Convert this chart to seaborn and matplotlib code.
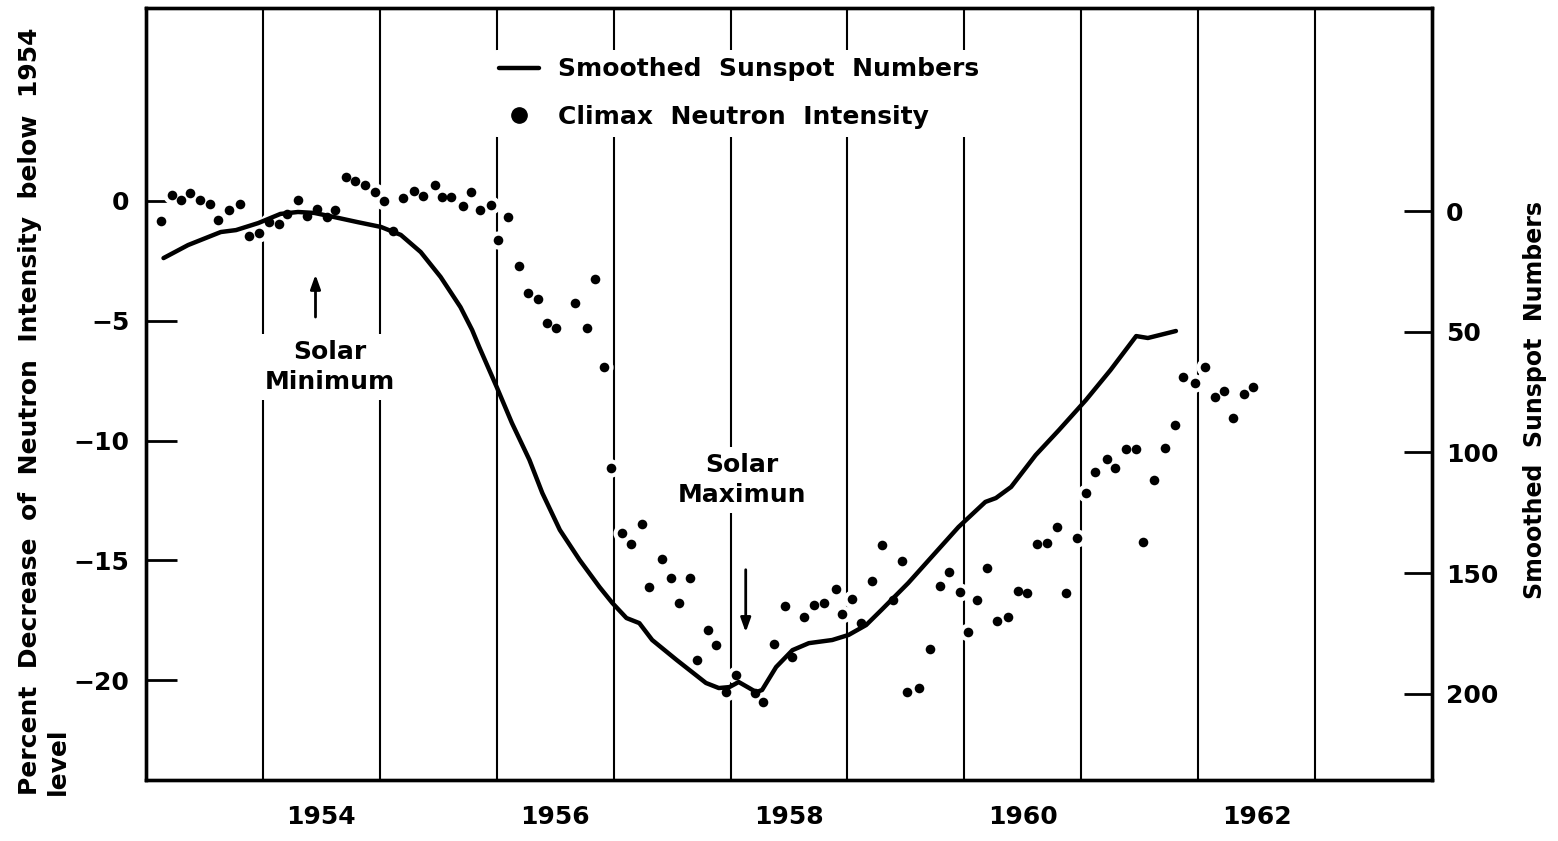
import matplotlib
matplotlib.use("Agg")
import matplotlib.pyplot as plt
import seaborn as sns
from matplotlib.lines import Line2D

# Climax neutron monitor, percent below the 1954 level (monthly means)
neutron_year = [1953.13, 1953.22, 1953.30, 1953.38, 1953.46, 1953.55, 1953.62, 1953.71,
                1953.80, 1953.88, 1953.97, 1954.05, 1954.14, 1954.21, 1954.30, 1954.38,
                1954.46, 1954.55, 1954.62, 1954.71, 1954.79, 1954.87, 1954.96, 1955.04,
                1955.11, 1955.20, 1955.29, 1955.37, 1955.47, 1955.53, 1955.61, 1955.71,
                1955.78, 1955.86, 1955.95, 1956.01, 1956.10, 1956.19, 1956.27, 1956.35,
                1956.43, 1956.51, 1956.67, 1956.77, 1956.84, 1956.92, 1956.98, 1957.07,
                1957.15, 1957.24, 1957.30, 1957.41, 1957.49, 1957.56, 1957.65, 1957.71,
                1957.81, 1957.88, 1957.96, 1958.05, 1958.21, 1958.28, 1958.37, 1958.47,
                1958.53, 1958.63, 1958.71, 1958.80, 1958.90, 1958.95, 1959.04, 1959.12,
                1959.21, 1959.30, 1959.39, 1959.47, 1959.51, 1959.61, 1959.71, 1959.79,
                1959.87, 1959.96, 1960.03, 1960.11, 1960.19, 1960.28, 1960.37, 1960.46,
                1960.54, 1960.62, 1960.71, 1960.79, 1960.87, 1960.96, 1961.04, 1961.12,
                1961.22, 1961.29, 1961.38, 1961.47, 1961.53, 1961.62, 1961.72, 1961.80,
                1961.87, 1961.97, 1962.06, 1962.14, 1962.22, 1962.30, 1962.39, 1962.47]
neutron_pct = [-0.83, 0.25, 0.04, 0.33, 0.04, -0.13, -0.79, -0.38,
               -0.13, -1.46, -1.34, -0.88, -0.96, -0.54, 0.04, -0.63,
               -0.33, -0.67, -0.38, 1.00, 0.83, 0.67, 0.38, 0.00,
               -1.25, 0.13, 0.42, 0.21, 0.67, 0.17, 0.17, -0.21,
               0.38, -0.38, -0.17, -1.63, -0.67, -2.71, -3.84, -4.09,
               -5.09, -5.30, -4.26, -5.30, -3.25, -6.93, -11.14, -13.85,
               -14.31, -13.48, -16.10, -14.94, -15.73, -16.77, -15.73, -19.15,
               -17.90, -18.52, -20.48, -19.77, -20.53, -20.90, -18.48, -16.90,
               -19.02, -17.36, -16.85, -16.77, -16.19, -17.23, -16.60, -17.61,
               -15.85, -14.35, -16.65, -15.02, -20.48, -20.32, -18.69, -16.06,
               -15.48, -16.31, -17.98, -16.65, -15.31, -17.52, -17.36, -16.27,
               -16.35, -14.31, -14.27, -13.60, -16.35, -14.06, -12.18, -11.31,
               -10.76, -11.14, -10.35, -10.35, -14.23, -11.64, -10.30, -9.35,
               -7.34, -7.59, -6.93, -8.18, -7.93, -9.05, -8.05, -7.76]

# smoothed sunspot numbers (right axis, inverted)
sunspot_year = [1953.15, 1953.36, 1953.64, 1953.77, 1953.96, 1954.15, 1954.30, 1954.44,
                1954.61, 1954.81, 1955.01, 1955.18, 1955.35, 1955.52, 1955.69, 1955.79,
                1955.85, 1956.00, 1956.13, 1956.28, 1956.39, 1956.54, 1956.71, 1956.88,
                1956.99, 1957.11, 1957.22, 1957.33, 1957.54, 1957.79, 1957.90, 1957.99,
                1958.07, 1958.16, 1958.22, 1958.27, 1958.39, 1958.53, 1958.67, 1958.87,
                1959.01, 1959.16, 1959.29, 1959.52, 1959.72, 1959.95, 1960.18, 1960.27,
                1960.40, 1960.61, 1960.81, 1961.04, 1961.25, 1961.47, 1961.57, 1961.81]
sunspot_num = [19.5, 14.1, 8.7, 7.9, 5.0, 1.2, 0.4, 0.8,
               2.5, 4.6, 6.6, 9.9, 17.0, 27.3, 39.8, 49.3,
               56.3, 72.9, 87.8, 103.1, 116.8, 132.1, 144.6, 155.8,
               162.4, 168.6, 170.7, 177.7, 186.0, 195.5, 197.6, 197.2,
               195.1, 197.6, 199.3, 198.4, 188.9, 181.9, 179.0, 177.7,
               175.6, 171.5, 165.3, 154.1, 143.3, 130.9, 120.5, 118.9,
               114.3, 101.1, 90.7, 78.3, 65.9, 51.8, 52.6, 49.7]

year_lines = list(range(1954, 1964))
label_years = [1954, 1956, 1958, 1960, 1962]
left_ticks = [0, -5, -10, -15, -20]
right_ticks = [0, 50, 100, 150, 200]

sns.set_theme(style="white")
plt.rcParams["font.family"] = ["DejaVu Sans"]
plt.rcParams["font.weight"] = "bold"
plt.rcParams["text.color"] = "black"
plt.rcParams["axes.labelcolor"] = "black"
plt.rcParams["xtick.color"] = "black"
plt.rcParams["ytick.color"] = "black"

fig = plt.figure(figsize=(15.58, 8.41), dpi=100)
ax = fig.add_axes([0.0937, 0.0725, 0.8254, 0.918])
ax2 = ax.twinx()

# year boundary lines
for yr in year_lines:
    ax.axvline(yr, color="black", lw=1.5, zorder=1)

# white halo under the dots so the grid breaks around them
sns.scatterplot(x=neutron_year, y=neutron_pct, ax=ax, color="white", s=170,
                linewidth=0, zorder=2, legend=False)
sns.scatterplot(x=neutron_year, y=neutron_pct, ax=ax, color="black", s=48,
                linewidth=0, zorder=3, legend=False)

sns.lineplot(x=sunspot_year, y=sunspot_num, ax=ax2, color="black", lw=3.2,
             sort=False, estimator=None, legend=False)

ax.set_xlim(1953, 1964)
ax.set_ylim(-24.16, 8.05)
ax2.set_ylim(235.7, -84.1)

ax.set_xticks([y + 0.5 for y in label_years])
ax.set_xticklabels([str(y) for y in label_years])
ax.tick_params(axis="x", length=0, pad=18, labelsize=18)
ax.set_yticks(left_ticks)
ax.set_yticklabels([str(v).replace("-", "\u2212") for v in left_ticks])
ax.tick_params(axis="y", direction="in", length=22, width=2, pad=12, labelsize=18)
ax2.set_yticks(right_ticks)
ax2.tick_params(axis="y", direction="in", length=20, width=2, pad=10, labelsize=18)
ax.grid(False)
ax2.grid(False)

for a in (ax, ax2):
    for s in a.spines.values():
        s.set_linewidth(2.4)
        s.set_color("black")

# annotations
box = dict(facecolor="white", edgecolor="none", pad=4)
ax.text(1954.57, -6.93, "Solar\nMinimum", ha="center", va="center", fontsize=18,
        linespacing=1.35, bbox=box, zorder=4)
ax.annotate("", xy=(1954.45, -2.96), xytext=(1954.45, -4.96),
            arrowprops=dict(arrowstyle="-|>,head_length=0.7,head_width=0.25",
                            color="black", lw=2), zorder=4)
ax.text(1958.10, -11.64, "Solar\nMaximun", ha="center", va="center", fontsize=18,
        linespacing=1.35, bbox=box, zorder=4)
ax.annotate("", xy=(1958.13, -18.11), xytext=(1958.13, -15.27),
            arrowprops=dict(arrowstyle="-|>,head_length=0.7,head_width=0.25",
                            color="black", lw=2), zorder=4)

handles = [Line2D([0], [0], color="black", lw=3.2),
           Line2D([0], [0], marker="o", color="black", ls="none", markersize=11)]
leg = ax.legend(handles, ["Smoothed  Sunspot  Numbers", "Climax  Neutron  Intensity"],
                loc="upper left", bbox_to_anchor=(0.259, 0.962), frameon=True,
                facecolor="white", edgecolor="none", framealpha=1,
                fontsize=18, handlelength=1.6, handletextpad=0.75, labelspacing=0.95,
                borderpad=0.3)
leg.set_zorder(5)

fig.text(44 / 1558, 1 - 795 / 841,
         "Percent  Decrease  of  Neutron  Intensity  below  1954\nlevel",
         rotation=90, ha="center", va="bottom", multialignment="left",
         fontsize=18, linespacing=1.25)
fig.text(1535 / 1558, 1 - 400 / 841, "Smoothed  Sunspot  Numbers",
         rotation=90, ha="center", va="center", fontsize=17)

fig.savefig("out.png", dpi=100)
